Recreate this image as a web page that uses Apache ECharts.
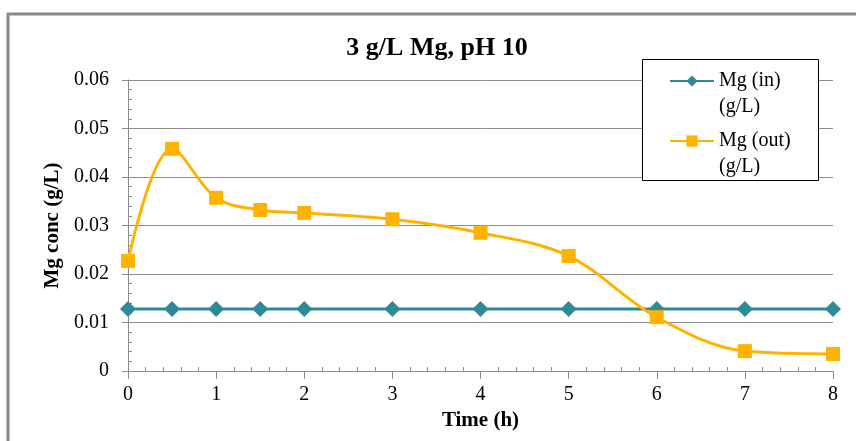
<!DOCTYPE html>
<html>
<head>
<meta charset="utf-8">
<script src="https://cdn.jsdelivr.net/npm/echarts@6/dist/echarts.min.js"></script>
<style>
  html, body { margin: 0; padding: 0; background: #fff; }
  #chart { width: 856px; height: 441px; }
</style>
</head>
<body>
<div id="chart"></div>
<script>
// Sampling times (h)
const times = [0, 0.5, 1, 1.5, 2, 3, 4, 5, 6, 7, 8];
// Mg concentration entering (g/L)
const mgIn = [0.0128, 0.0128, 0.0128, 0.0128, 0.0128, 0.0128, 0.0128, 0.0128, 0.0128, 0.0128, 0.0128];
// Mg concentration leaving (g/L)
const mgOut = [0.0227, 0.0458, 0.0357, 0.0332, 0.0326, 0.0313, 0.0285, 0.0237, 0.0111, 0.0041, 0.0035];

const seriesNames = ['Mg (in)\n(g/L)', 'Mg (out)\n(g/L)'];
const titleText = '3 g/L Mg, pH 10';
const xName = 'Time (h)';
const yName = 'Mg conc (g/L)';

const FONT = '"Liberation Serif", "Times New Roman", serif';
const TEAL = '#2F8A98';
const AMBER = '#FFB300';
const GRID_GRAY = '#8c8c8c';

const pairs = (xs, ys) => xs.map((x, i) => [x, ys[i]]);

const chart = echarts.init(document.getElementById('chart'), null, { renderer: 'canvas' });

chart.setOption({
  animation: false,
  backgroundColor: '#fff',
  title: {
    text: titleText,
    left: 432,
    top: 30,
    textAlign: 'center',
    textStyle: { fontFamily: FONT, fontWeight: 'bold', fontSize: 26, color: '#000' }
  },
  graphic: [
    {
      // outer frame (top and left edges visible)
      type: 'rect',
      shape: { x: 8, y: 14, width: 900, height: 500 },
      style: { fill: 'none', stroke: '#8a8a8a', lineWidth: 3 },
      z: 1, silent: true
    },
    {
      // legend box
      type: 'rect',
      shape: { x: 642.5, y: 59.5, width: 176, height: 121 },
      style: { fill: '#fff', stroke: '#000', lineWidth: 1 },
      z: 3, silent: true
    }
  ],
  legend: {
    left: 664,
    top: 37,
    orient: 'vertical',
    itemWidth: 44,
    itemHeight: 14,
    itemGap: -18,
    z: 5,
    data: seriesNames,
    // leading blank line keeps the marker level with the first text line
    formatter: name => '\n' + name,
    textStyle: { fontFamily: FONT, fontSize: 20, color: '#000', lineHeight: 26 }
  },
  grid: { left: 128, right: 23, top: 80, bottom: 70, containLabel: false },
  xAxis: [
    {
      type: 'value',
      min: 0, max: 8, interval: 1,
      name: xName,
      nameLocation: 'middle',
      nameGap: 37,
      nameTextStyle: { fontFamily: FONT, fontWeight: 'bold', fontSize: 21, color: '#000' },
      axisLine: { show: true, onZero: false, lineStyle: { color: GRID_GRAY, width: 1 } },
      axisTick: { show: true, length: 8, inside: false, lineStyle: { color: GRID_GRAY } },
      axisLabel: { margin: 14, fontFamily: FONT, fontSize: 20, color: '#000' },
      splitLine: { show: false }
    },
    {
      // minor ticks drawn on the inside of the time axis
      type: 'value',
      position: 'bottom',
      min: 0, max: 8, interval: 1,
      axisLine: { show: false },
      axisTick: { show: false, inside: true },
      minorTick: { show: true, splitNumber: 5, length: 4, lineStyle: { color: GRID_GRAY } },
      axisLabel: { show: false },
      splitLine: { show: false }
    }
  ],
  yAxis: [
    {
      type: 'value',
      min: 0, max: 0.06, interval: 0.01,
      name: yName,
      nameLocation: 'middle',
      nameGap: 59,
      nameRotate: 90,
      nameTextStyle: { fontFamily: FONT, fontWeight: 'bold', fontSize: 21, color: '#000' },
      axisLine: { show: true, lineStyle: { color: GRID_GRAY, width: 1 } },
      axisTick: { show: true, length: 6, inside: false, lineStyle: { color: GRID_GRAY } },
      axisLabel: { margin: 19, fontFamily: FONT, fontSize: 20, color: '#000' },
      splitLine: { show: true, lineStyle: { color: GRID_GRAY, width: 1 } }
    },
    {
      // minor ticks drawn on the inside of the concentration axis
      type: 'value',
      position: 'left',
      min: 0, max: 0.06, interval: 0.01,
      axisLine: { show: false },
      axisTick: { show: false, inside: true },
      minorTick: { show: true, splitNumber: 5, length: 4, lineStyle: { color: GRID_GRAY } },
      axisLabel: { show: false },
      splitLine: { show: false }
    }
  ],
  series: [
    {
      name: seriesNames[0],
      type: 'line',
      data: pairs(times, mgIn),
      symbol: 'diamond',
      symbolSize: 16,
      lineStyle: { color: TEAL, width: 3 },
      itemStyle: { color: TEAL },
      z: 2
    },
    {
      name: seriesNames[1],
      type: 'line',
      data: pairs(times, mgOut),
      smooth: 0.35,
      symbol: 'rect',
      symbolSize: 14,
      lineStyle: { color: AMBER, width: 3 },
      itemStyle: { color: AMBER },
      z: 3
    }
  ]
});
</script>
</body>
</html>
